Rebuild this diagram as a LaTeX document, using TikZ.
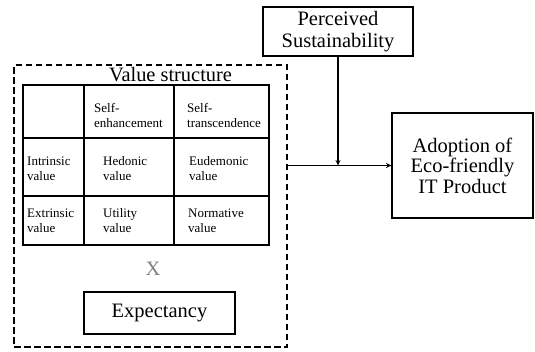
\documentclass[tikz,border=0pt]{standalone}
\usepackage{fontspec}
\setmainfont{Liberation Serif}
\usetikzlibrary{arrows.meta}
\tikzset{
  box/.style={draw, line width=1.2pt, inner sep=0pt, align=center, font=\fontsize{20.5}{21.5}\selectfont},
  dashbox/.style={draw, line width=2pt, dash pattern=on 6.5pt off 3.5pt, inner sep=0pt},
  cell/.style={draw, line width=1.3pt, inner sep=0pt},
  ctext/.style={anchor=west, align=left, inner sep=0pt, font=\fontsize{13}{15}\selectfont},
  arr/.style={line width=1.2pt, -{Stealth[length=5.5pt,width=5pt]}},
}
\begin{document}
\begin{tikzpicture}[x=1pt,y=-1pt]
\useasboundingbox (0,0) rectangle (535,351);
% dashed outer box
\node[dashbox, minimum width=273pt, minimum height=282pt] (vs) at (150.5,206) {};
\node[font=\fontsize{20.4}{21}\selectfont, inner sep=0pt] (vst) at (170.5,74.5) {Value structure};
% table cells
\node[cell, minimum width=61pt, minimum height=53pt] (c11) at (53.5,111.5) {};
\node[cell, minimum width=90pt, minimum height=53pt] (c12) at (129,111.5) {};
\node[cell, minimum width=95pt, minimum height=53pt] (c13) at (221.5,111.5) {};
\node[cell, minimum width=61pt, minimum height=58pt] (c21) at (53.5,167) {};
\node[cell, minimum width=90pt, minimum height=58pt] (c22) at (129,167) {};
\node[cell, minimum width=95pt, minimum height=58pt] (c23) at (221.5,167) {};
\node[cell, minimum width=61pt, minimum height=49pt] (c31) at (53.5,220.5) {};
\node[cell, minimum width=90pt, minimum height=49pt] (c32) at (129,220.5) {};
\node[cell, minimum width=95pt, minimum height=49pt] (c33) at (221.5,220.5) {};
% cell texts
\node[ctext] (t12) at (94,115.5) {Self-\\enhancement};
\node[ctext] (t13) at (187,115.5) {Self-\\transcendence};
\node[ctext] (t21) at (27,168.5) {Intrinsic\\value};
\node[ctext] (t22) at (103,168.5) {Hedonic\\value};
\node[ctext] (t23) at (189,168.5) {Eudemonic\\value};
\node[ctext] (t31) at (27,220.5) {Extrinsic\\value};
\node[ctext] (t32) at (103,220.5) {Utility\\value};
\node[ctext] (t33) at (188,220.5) {Normative\\value};
% X
\node[font=\fontsize{20.5}{21}\selectfont, text=black!50, inner sep=0pt] (x) at (153,269) {X};
% Expectancy
\node[box, minimum width=151pt, minimum height=42pt] (ex) at (159.5,313) {Expectancy};
% Perceived Sustainability
\node[box, minimum width=150pt, minimum height=49pt] (ps) at (338,31.5) {Perceived\\Sustainability};
% Adoption
\node[box, minimum width=141pt, minimum height=105pt, font=\fontsize{20.5}{20.5}\selectfont] (ad) at (462.5,165.5) {Adoption of\\Eco-friendly\\IT Product};
% arrows
\draw[arr] (vs.east |- ad.west) -- (ad.west);
\draw[arr] (ps.south) -- (ps.south |- ad.west);
\end{tikzpicture}
\end{document}
